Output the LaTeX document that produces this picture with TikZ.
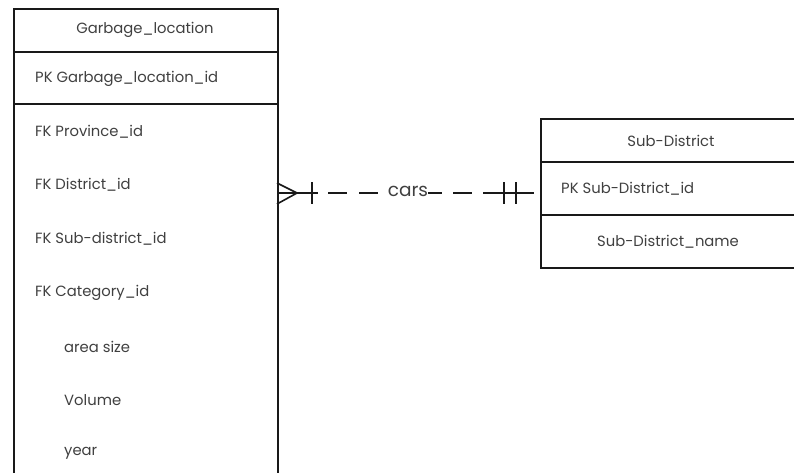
\documentclass[tikz,border=0pt]{standalone}
\usepackage{fontspec}
\setmainfont{Poppins}
\begin{document}
\begin{tikzpicture}[x=1pt,y=-1pt,
  tbl/.style={draw=black!90,line width=1.8pt,inner sep=0pt},
  sep/.style={draw=black!90,line width=1.6pt},
  fld/.style={font=\fontsize{14.8}{16}\selectfont,text=black!75,inner sep=0pt},
  rel/.style={draw=black!90,line width=1.6pt},
  mark line/.style={draw=black!90,line width=1.6pt}]
\useasboundingbox (0,0) rectangle (794,473);
\clip (0,0) rectangle (794,473);
\fill[white] (0,0) rectangle (794,473);

% Garbage_location entity (continues past the lower edge)
\node[tbl,anchor=north west,minimum width=264pt,minimum height=480pt] (gl) at (13,8) {};
\draw[sep] (13,52) -- (277,52);
\draw[sep] (13,104) -- (277,104);
\node[fld] (glt) at (145,30) {Garbage\_location};
\node[fld,anchor=west] (glpk) at (35,79) {PK Garbage\_location\_id};
\node[fld,anchor=west] (f1) at (35,132) {FK Province\_id};
\node[fld,anchor=west] (f2) at (35,185) {FK District\_id};
\node[fld,anchor=west] (f3) at (35,239) {FK Sub-district\_id};
\node[fld,anchor=west] (f4) at (35,293) {FK Category\_id};
\node[fld,anchor=west] (f5) at (64,347) {area size};
\node[fld,anchor=west] (f6) at (64,400) {Volume};
\node[fld,anchor=west] (f7) at (64,453) {year};

% Sub-District entity (continues past the right edge)
\node[tbl,anchor=north west,minimum width=300pt,minimum height=149pt] (sd) at (540,118) {};
\draw[sep] (540,162) -- (800,162);
\draw[sep] (540,215) -- (800,215);
\node[fld] (sdt) at (671,141) {Sub-District};
\node[fld,anchor=west] (sdpk) at (561,189) {PK Sub-District\_id};
\node[fld] (sdn) at (668,242) {Sub-District\_name};

% relationship "cars": many (left) to exactly one (right)
\coordinate (ra) at (gl.east |- 0,193);
\coordinate (rb) at (534,193);
\coordinate (apex) at (297,193);
\node[fld,font=\fontsize{18.5}{20}\selectfont] (lbl) at (408,191) {cars};
\draw[rel] (ra) -- (318,193);
\draw[rel,dash pattern=on 0pt off 10pt on 19pt off 12pt on 19pt off 12pt] (318,193) -- (lbl.west |- 0,193);
\draw[rel,dash pattern=on 14pt off 11pt on 19pt off 11pt on 100pt] (lbl.east |- 0,193) -- (rb);
% crow's foot
\draw[mark line] (277,183) -- (apex) -- (277,204);
\draw[mark line] (312,182) -- (312,204);
% double bar
\draw[mark line] (504,182) -- (504,204);
\draw[mark line] (516,182) -- (516,204);
\end{tikzpicture}
\end{document}
